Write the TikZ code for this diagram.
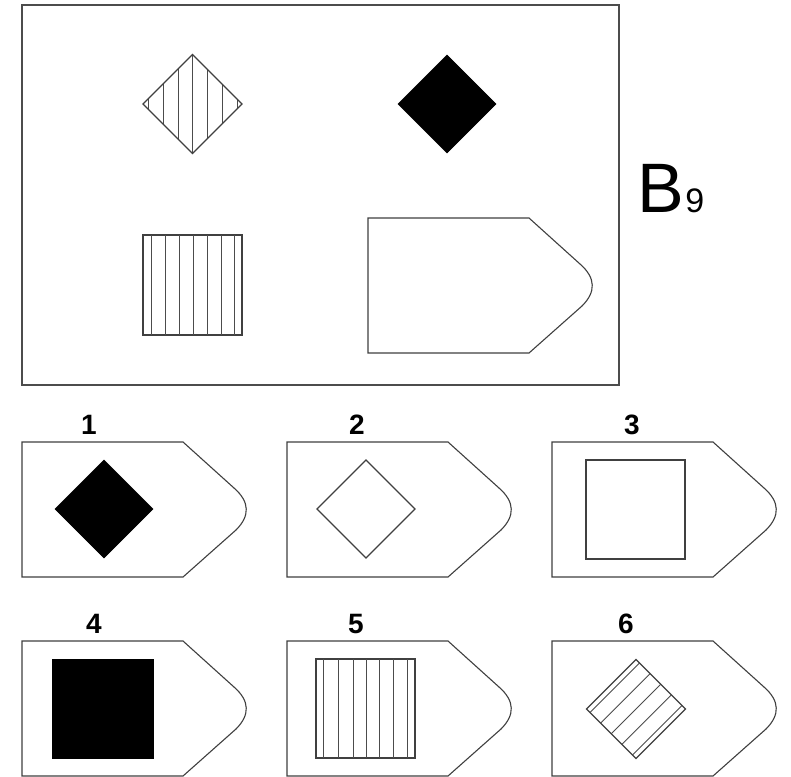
\documentclass[tikz,border=0pt]{standalone}
\usepackage{fontspec}
\setmainfont{Liberation Sans}
\begin{document}
\begin{tikzpicture}[x=1pt,y=-1pt,
  frame/.style={draw=black!70, line width=1.6pt},
  outline/.style={draw=black!75, line width=1.1pt, line join=miter},
  hatch/.style={draw=black!70, line width=0.9pt},
  solidfill/.style={fill=black, draw=black, line width=0.6pt},
  lbl/.style={font=\bfseries\fontsize{28}{28}\selectfont, anchor=base, inner sep=0pt},
  pent/.pic={\draw[outline] (0,0) -- (161,0) -- (212,46) .. controls (228,60) and (228,74) .. (214,88) -- (161,135) -- (0,135) -- cycle;}
]
\useasboundingbox (0,0) rectangle (791,776);
\fill[white] (0,0) rectangle (791,776);

% main frame
\draw[frame] (22,5) rectangle (619,385);

% hatched diamond
\begin{scope}
  \clip (192.5,54.5) -- (242,104) -- (192.5,153.5) -- (143,104) -- cycle;
  \foreach \xx in {148,163,178,192.5,207,222,237}
    \draw[hatch] (\xx,50) -- (\xx,160);
\end{scope}
\draw[outline] (192.5,54.5) -- (242,104) -- (192.5,153.5) -- (143,104) -- cycle;

% black diamond
\fill[solidfill] (447,55) -- (496,104) -- (447,153) -- (398,104) -- cycle;

% hatched square
\draw[outline] (143,235) rectangle (242,335);
\foreach \dx in {8,22,36,50,64,78,91}
  \draw[hatch] (143+\dx,235) -- (143+\dx,335);

% big pentagon
\pic at (368,218) {pent};

% B9
\node[anchor=base west, inner sep=0pt, font=\fontsize{70}{70}\selectfont] (B) at (637,212) {B};
\node[anchor=base west, inner sep=0pt, font=\fontsize{34}{34}\selectfont] (nine) at ([xshift=1pt]B.base east) {9};

% options row 1
\pic at (22,442) {pent};
\pic at (287,442) {pent};
\pic at (552,442) {pent};
\node[lbl] (l1) at (89,434) {1};
\node[lbl] (l2) at (357,434) {2};
\node[lbl] (l3) at (632,434) {3};

\fill[solidfill] (104,460) -- (153,509) -- (104,558) -- (55,509) -- cycle;
\draw[outline] (366,460) -- (415,509) -- (366,558) -- (317,509) -- cycle;
\draw[outline] (586,460) rectangle (685,559);

% options row 2
\pic at (22,641) {pent};
\pic at (287,641) {pent};
\pic at (552,641) {pent};
\node[lbl] (l4) at (94,633) {4};
\node[lbl] (l5) at (356,633) {5};
\node[lbl] (l6) at (626,633) {6};

\fill[solidfill] (52,659) rectangle (153,758);

\draw[outline] (316,659) rectangle (415,758);
\foreach \dx in {7,22,37,50,63,77,91}
  \draw[hatch] (316+\dx,659) -- (316+\dx,758);

\begin{scope}[shift={(636,709)}, rotate=-45]
  \foreach \xx in {-30,-15,0,15,30}
    \draw[hatch] (\xx,-35) -- (\xx,35);
  \draw[outline] (-35,-35) rectangle (35,35);
\end{scope}
\end{tikzpicture}
\end{document}
